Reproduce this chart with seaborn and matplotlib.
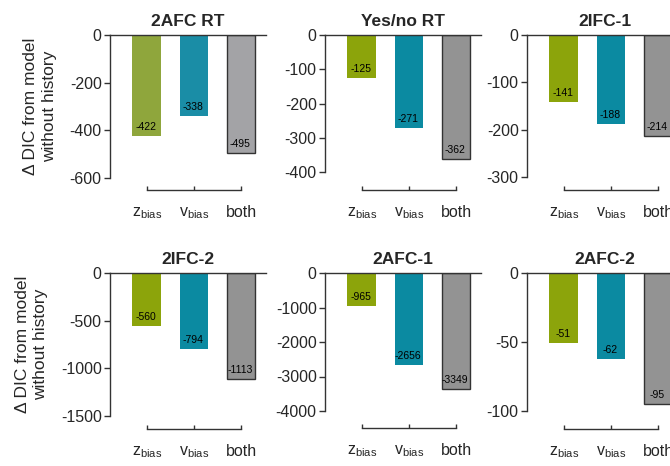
import matplotlib
matplotlib.use("Agg")
import matplotlib.pyplot as plt
import seaborn as sns
import pandas as pd

sns.set_style("white")
plt.rcParams['font.family'] = ['Liberation Sans', 'DejaVu Sans']
plt.rcParams['mathtext.fontset'] = 'custom'
plt.rcParams['mathtext.rm'] = 'Liberation Sans'

titles = ["2AFC RT", "Yes/no RT", "2IFC-1", "2IFC-2", "2AFC-1", "2AFC-2"]
categories = ["zbias", "vbias", "both"]
tick_labels = [r"$\mathregular{z_{bias}}$", r"$\mathregular{v_{bias}}$", "both"]
zbias = [-422, -125, -141, -560, -965, -51]
vbias = [-338, -271, -188, -794, -2656, -62]
both = [-495, -362, -214, -1113, -3349, -95]
yticks = [
    [0, -200, -400, -600],
    [0, -100, -200, -300, -400],
    [0, -100, -200, -300],
    [0, -500, -1000, -1500],
    [0, -1000, -2000, -3000, -4000],
    [0, -50, -100],
]

pal_first = ["#8FA63C", "#1A8DA6", "#A3A3A6"]
pal_other = ["#8CA40B", "#0B8AA1", "#939393"]

W, H = 670, 466
fig = plt.figure(figsize=(W / 100, H / 100), dpi=100)

# pixel layout: left, top, bottom, x-spine y
lefts = [110, 325, 527, 110, 325, 527]
tops = [35, 35, 35, 273, 273, 273]
bottoms = [178, 172, 177, 416, 411, 411]
spine_y = [190, 190, 190, 429, 428, 429]
width_px = 156

for i in range(6):
    l, t, b = lefts[i], tops[i], bottoms[i]
    ax = fig.add_axes([l / W, 1 - b / H, width_px / W, (b - t) / H])
    vals = [zbias[i], vbias[i], both[i]]
    df = pd.DataFrame({"cat": categories, "val": vals})
    pal = pal_first if i == 0 else pal_other
    sns.barplot(data=df, x="cat", y="val", hue="cat", palette=pal,
                legend=False, width=0.61, ax=ax, saturation=1)
    for j, p in enumerate(ax.patches):
        if j == 2:
            p.set_edgecolor("#333333")
            p.set_linewidth(1.0)
        else:
            p.set_edgecolor("none")
    for j, v in enumerate(vals):
        ax.annotate(str(v), (j, v), xytext=(-1, 9), textcoords="offset pixels",
                    ha="center", va="center", fontsize=7.5, color="black")
    ax.set_xlim(-0.78, 2.53)
    ax.set_ylim(yticks[i][-1], 0)
    ax.set_yticks(yticks[i])
    ax.set_yticklabels([str(v) for v in yticks[i]])
    ax.set_xticks([0, 1, 2])
    ax.set_xticklabels(tick_labels)
    ax.set_xlabel("")
    ax.set_ylabel("")
    ax.set_title(titles[i], fontsize=12.5, fontweight="bold", pad=6.5)
    for s in ["top", "left", "bottom"]:
        ax.spines[s].set_visible(True)
        ax.spines[s].set_color("#333333")
        ax.spines[s].set_linewidth(1.0)
    ax.spines["right"].set_visible(False)
    ax.spines["bottom"].set_position(("outward", (spine_y[i] - b) * 0.72))
    ax.spines["bottom"].set_bounds(0, 2)
    ax.tick_params(axis="y", direction="out", length=4, width=1, color="#333333",
                   labelsize=11.5, pad=2, left=True)
    ax.tick_params(axis="x", direction="in", length=3, width=1, color="#333333",
                   labelsize=11.5, pad=11, bottom=True)
    ax.grid(False)
    if i % 3 == 0:
        ax.set_ylabel("\u0394 DIC from model\nwithout history", fontsize=12.5,
                      labelpad=9, linespacing=1.3)

fig.savefig("out.png", dpi=100)
